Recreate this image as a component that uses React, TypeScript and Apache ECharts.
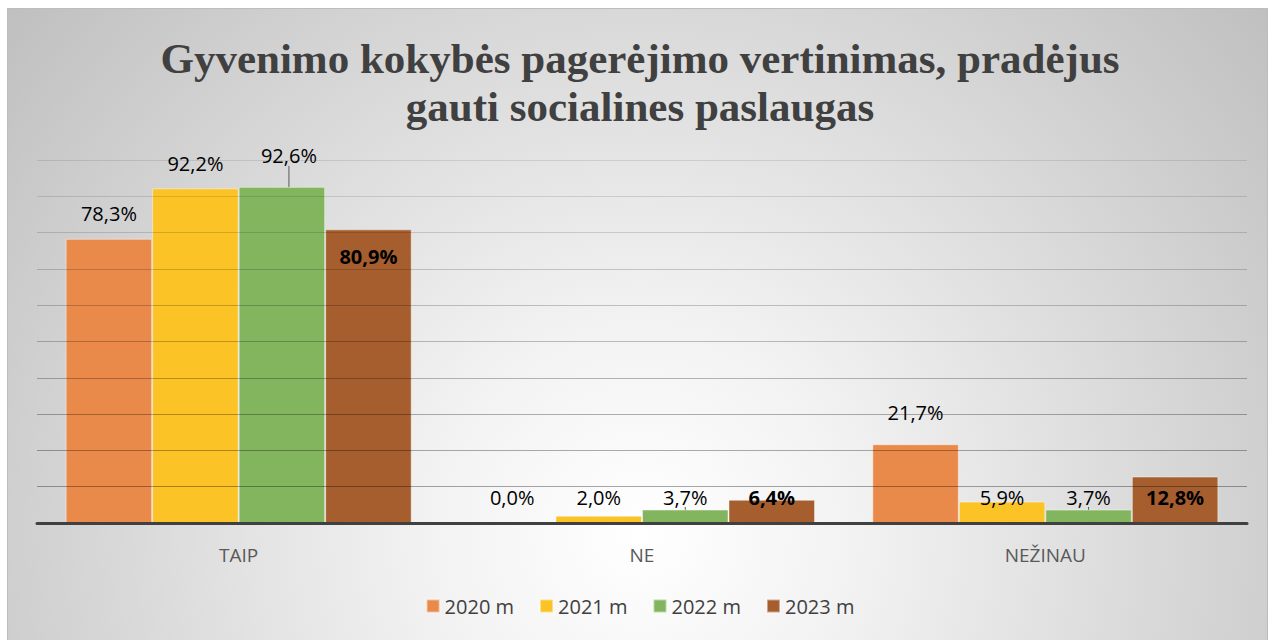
import React, { useEffect, useRef } from "react";
import * as echarts from "echarts";

const categories = ["TAIP", "NE", "NEŽINAU"];
const seriesNames = ["2020 m", "2021 m", "2022 m", "2023 m"];
const s2020 = [78.3, 0.0, 21.7];
const s2021 = [92.2, 2.0, 5.9];
const s2022 = [92.6, 3.7, 3.7];
const s2023 = [80.9, 6.4, 12.8];
const yTicks = [0, 10, 20, 30, 40, 50, 60, 70, 80, 90, 100];

const colors = ["#EA8A4A", "#FBC325", "#83B55F", "#A65E2E"];
const FONT = "'Open Sans', 'Noto Sans', sans-serif";

const fmt = (v: number) => v.toFixed(1).replace(".", ",") + "%";

export default function App() {
  const ref = useRef<HTMLDivElement>(null);
  useEffect(() => {
    if (!ref.current) return;
    const chart = echarts.init(ref.current, undefined, { renderer: "svg" });
    const all = [s2020, s2021, s2022, s2023];

    const mkData = (vals: number[], si: number) =>
      vals.map((v, ci) => {
        const bold = si === 3;
        let label: any;
        if (ci === 0) {
          if (si === 3) {
            label = { position: "insideTop", distance: 17 };
          } else {
            label = { position: "top", distance: 15 };
          }
        } else if (ci === 2 && si === 0) {
          label = { position: "top", distance: 22 };
        } else {
          label = { position: "insideBottom", distance: 16 };
        }
        return { value: v, label: { ...label, fontWeight: bold ? "bold" : "normal" } };
      });

    const lineAlphas = [0, 0.34, 0.32, 0.3, 0.27, 0.24, 0.21, 0.18, 0.15, 0.12, 0.1];

    chart.setOption({
      animation: false,
      backgroundColor: "transparent",
      title: {
        text: "Gyvenimo kokybės pagerėjimo vertinimas, pradėjus\ngauti socialines paslaugas",
        left: "center",
        top: 34,
        padding: 0,
        textStyle: {
          fontFamily: "'Liberation Serif', 'DejaVu Serif', serif",
          fontWeight: "bold",
          fontSize: 43,
          lineHeight: 48,
          color: "#404040",
        },
      },
      legend: {
        data: seriesNames,
        bottom: 19,
        left: "center",
        itemWidth: 13,
        itemHeight: 13,
        itemGap: 25,
        icon: "rect",
        textStyle: { fontFamily: FONT, fontSize: 20, color: "#404040" },
      },
      grid: { left: 37, right: 33, top: 160, bottom: 117, containLabel: false },
      xAxis: {
        type: "category",
        data: categories,
        axisLine: { show: true, lineStyle: { color: "#404040", width: 3 } },
        axisTick: { show: false },
        axisLabel: { fontFamily: FONT, fontSize: 19, color: "#595959", margin: 22 },
        z: 4,
      },
      yAxis: {
        type: "value",
        min: yTicks[0],
        max: yTicks[yTicks.length - 1],
        interval: 10,
        axisLabel: { show: false },
        axisLine: { show: false },
        axisTick: { show: false },
        splitLine: {
          show: true,
          lineStyle: {
            width: 1.2,
            color: lineAlphas.map((a) => `rgba(0,0,0,${a})`),
          },
        },
        z: 3,
      },
      series: all.map((vals, si) => ({
        name: seriesNames[si],
        type: "bar",
        data: mkData(vals, si),
        barGap: "0%",
        barCategoryGap: "14.2%",
        itemStyle: {
          color: colors[si],
          borderColor: "rgba(255,255,255,0.45)",
          borderWidth: 1,
        },
        label: {
          show: true,
          formatter: (p: any) => fmt(p.value),
          fontFamily: FONT,
          fontSize: 20,
          color: "#000000",
        },
        labelLine:
          si === 2
            ? { show: true, lineStyle: { color: "#595959", width: 1 } }
            : undefined,
        labelLayout:
          si === 2
            ? (p: any) => (p.dataIndex === 0 ? { dx: 7, dy: -6 } : {})
            : undefined,
      })),
    });
    return () => chart.dispose();
  }, []);

  return (
    <div style={{ position: "absolute", left: 0, top: 0, width: 1280, height: 640, background: "#ffffff", overflow: "hidden" }}>
      <div
        style={{
          position: "absolute",
          left: 7,
          top: 8,
          width: 1261,
          height: 640,
          border: "1px solid #bdbdbd",
          boxSizing: "border-box",
          background: "radial-gradient(circle 860px at 633px 522px, #ffffff 0%, #f2f2f2 25%, #bcbcbc 100%)",
        }}
      />
      <div ref={ref} style={{ position: "absolute", left: 0, top: 0, width: 1280, height: 640 }} />
    </div>
  );
}
